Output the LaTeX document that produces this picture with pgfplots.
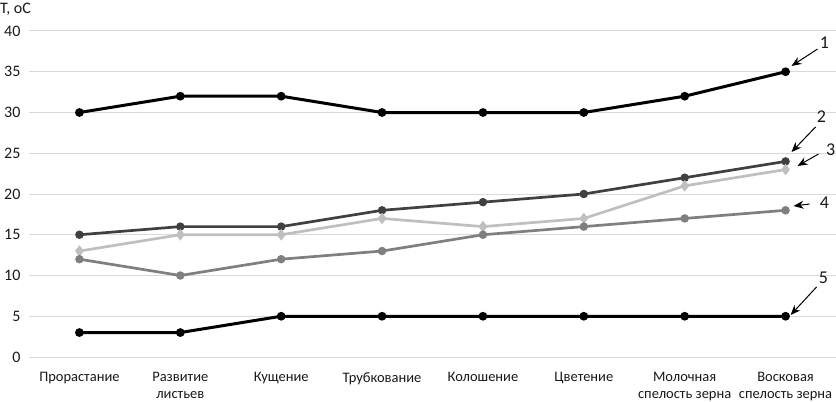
\documentclass[border=0pt]{standalone}
\usepackage{pgfplots}
\pgfplotsset{compat=1.18}
\usepackage{fontspec}
\setmainfont{Carlito}
\usetikzlibrary{arrows.meta}
\definecolor{s2}{HTML}{404040}
\definecolor{s3}{HTML}{BFBFBF}
\definecolor{s4}{HTML}{7F7F7F}
\definecolor{grd}{HTML}{D9D9D9}
\begin{document}
\begin{tikzpicture}[x=1pt,y=1pt]
\begin{axis}[name=ax,
  scale only axis, width=807pt, height=326pt,
  xmin=-0.5, xmax=7.5, ymin=0, ymax=40,
  axis line style={draw=none},
  tick style={draw=none},
  ytick={0,5,...,40},
  ymajorgrids, grid style={grd, line width=1pt},
  xtick={0,...,7},
  xticklabels={Прорастание, {Развитие\\листьев}, Кущение, Трубкование, Колошение, Цветение, {Молочная\\спелость зерна}, {Восковая\\спелость зерна}},
  xticklabel style={align=center, font=\fontsize{14.5}{16.5}\selectfont, text=black!90, yshift=-12pt},
  yticklabel style={font=\fontsize{16}{18}\selectfont, text=black!90, xshift=-5pt},
  /pgf/number format/assume math mode=true,
  clip=false,
]
\addplot[black, line width=3pt, mark=*, mark size=2.8pt] coordinates {(0,30)(1,32)(2,32)(3,30)(4,30)(5,30)(6,32)(7,35)};
\addplot[s2, line width=2.7pt, mark=*, mark size=2.8pt] coordinates {(0,15)(1,16)(2,16)(3,18)(4,19)(5,20)(6,22)(7,24)};
\addplot[s3, line width=2.7pt, mark=diamond*, mark size=3.6pt] coordinates {(0,13)(1,15)(2,15)(3,17)(4,16)(5,17)(6,21)(7,23)};
\addplot[s4, line width=2.7pt, mark=*, mark size=2.8pt] coordinates {(0,12)(1,10)(2,12)(3,13)(4,15)(5,16)(6,17)(7,18)};
\addplot[black, line width=3pt, mark=*, mark size=2.8pt] coordinates {(0,3)(1,3)(2,5)(3,5)(4,5)(5,5)(6,5)(7,5)};
\begin{scope}[font=\fontsize{18}{20}\selectfont, text=black!90]
\node at (axis cs:7.386,38.53) {1};
\node at (axis cs:7.356,29.45) {2};
\node at (axis cs:7.446,25.40) {3};
\node at (axis cs:7.386,18.90) {4};
\node at (axis cs:7.376,9.69) {5};
\end{scope}
\begin{scope}[-{Stealth[length=10pt,width=8pt]}, line width=1pt]
\draw (axis cs:7.317,37.79) -- (axis cs:7.059,35.71);
\draw (axis cs:7.297,28.22) -- (axis cs:7.059,25.15);
\draw (axis cs:7.327,24.91) -- (axis cs:7.119,23.44);
\draw (axis cs:7.238,18.77) -- (axis cs:7.079,18.53);
\draw (axis cs:7.307,8.59) -- (axis cs:7.050,5.15);
\end{scope}
\end{axis}
\node[anchor=west, inner sep=0pt, font=\fontsize{16}{18}\selectfont, text=black!90] at ([xshift=-29pt,yshift=22pt]ax.north west) {T, oC};
\pgfresetboundingbox
\path ([xshift=-29pt,yshift=-44pt]ax.south west) rectangle ([yshift=31pt]ax.north east);
\end{tikzpicture}
\end{document}
